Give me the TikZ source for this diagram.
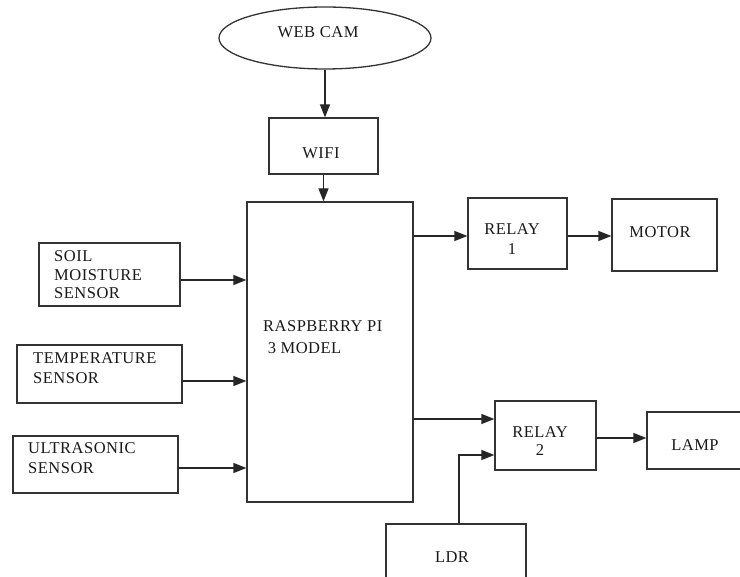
\documentclass[tikz,border=0pt]{standalone}
\usepackage{fontspec}
\setmainfont{Liberation Serif}[LetterSpace=3]
\usetikzlibrary{arrows.meta,shapes.geometric}
\begin{document}
\begin{tikzpicture}[x=1pt,y=-1pt,
  box/.style={draw=black!80,line width=1.3pt,rectangle,inner sep=0pt},
  txt/.style={font=\fontsize{16.5}{20}\selectfont,inner sep=0pt,text=black!90},
  arr/.style={draw=black!85,line width=1.3pt,-{Triangle[length=13pt,width=10pt]}}]
\useasboundingbox (0,0) rectangle (740,577);
% shapes
\node[draw=black!80,line width=1.3pt,ellipse,minimum width=212pt,minimum height=62pt,inner sep=0pt] (webcam) at (325,38) {};
\node[box,minimum width=109pt,minimum height=56pt] (wifi) at (323.5,146) {};
\node[box,minimum width=166pt,minimum height=300pt] (rpi) at (330,352) {};
\node[box,minimum width=99pt,minimum height=71pt] (relay1) at (517.5,233.5) {};
\node[box,minimum width=105pt,minimum height=72pt] (motor) at (664.5,235) {};
\node[box,minimum width=101pt,minimum height=69pt] (relay2) at (545.5,435.5) {};
\node[box,minimum width=113pt,minimum height=57pt] (lamp) at (703.5,440.5) {};
\node[box,minimum width=140pt,minimum height=76pt] (ldr) at (456,562) {};
\node[box,minimum width=141pt,minimum height=63pt] (soil) at (109.5,274.5) {};
\node[box,minimum width=165pt,minimum height=58pt] (temp) at (99.5,374) {};
\node[box,minimum width=165pt,minimum height=57pt] (ultra) at (95.5,464.5) {};
% texts
\node[txt] (webcamtxt) at (318,32) {WEB CAM};
\node[txt] (wifitxt) at (321,153) {WIFI};
\node[txt,anchor=west,align=left,font=\fontsize{16.5}{21.5}\selectfont] (rpitxt) at (263,337) {RASPBERRY PI\\\ 3 MODEL};
\node[txt,align=center] (relay1txt) at (512,239.5) {RELAY\\1};
\node[txt] (motortxt) at (660,232) {MOTOR};
\node[txt,align=center,font=\fontsize{16.5}{18.5}\selectfont] (relay2txt) at (540,441) {RELAY\\2};
\node[txt] (lamptxt) at (695,445) {LAMP};
\node[txt] (ldrtxt) at (452,557) {LDR};
\node[txt,anchor=west,align=left,font=\fontsize{16.5}{18.5}\selectfont] (soiltxt) at (54,275) {SOIL\\MOISTURE\\SENSOR};
\node[txt,anchor=west,align=left] (temptxt) at (33,368) {TEMPERATURE\\SENSOR};
\node[txt,anchor=west,align=left] (ultratxt) at (28,458) {ULTRASONIC\\SENSOR};
% connectors
\draw[arr] (webcam.south) -- (webcam.south |- wifi.north);
\draw[arr] (wifi.south) -- (wifi.south |- rpi.north);
\draw[arr] ([yshift=-5.5pt]soil.east) -- ([yshift=-5.5pt]soil.east -| rpi.west);
\draw[arr] ([yshift=-7pt]temp.east) -- ([yshift=-7pt]temp.east -| rpi.west);
\draw[arr] ([yshift=-3.5pt]ultra.east) -- ([yshift=-3.5pt]ultra.east -| rpi.west);
\draw[arr] ([yshift=-2.5pt]relay1.west -| rpi.east) -- ([yshift=-2.5pt]relay1.west);
\draw[arr] ([yshift=-2.5pt]relay1.east) -- ([yshift=-2.5pt]relay1.east -| motor.west);
\draw[arr] ([yshift=16.5pt]relay2.west -| rpi.east) -- ([yshift=16.5pt]relay2.west);
\draw[arr] ([xshift=3pt]ldr.north) |- ([yshift=-19.5pt]relay2.west);
\draw[arr] ([yshift=-2.5pt]relay2.east) -- ([yshift=-2.5pt]relay2.east -| lamp.west);
\end{tikzpicture}
\end{document}
